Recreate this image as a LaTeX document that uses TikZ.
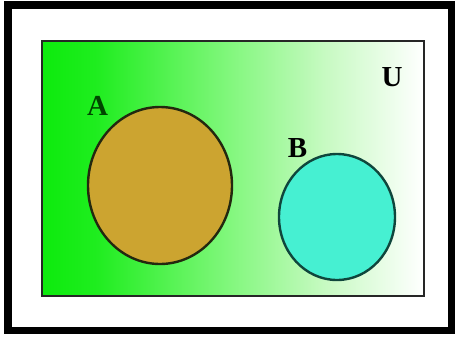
\documentclass[tikz,border=0pt]{standalone}
\usepackage{fontspec}
\setmainfont{Liberation Serif}
\usetikzlibrary{shapes.geometric}
\definecolor{goldA}{RGB}{204,164,48}
\definecolor{cyanB}{RGB}{70,240,210}
\definecolor{edgeA}{RGB}{35,40,15}
\definecolor{edgeB}{RGB}{15,70,60}
\definecolor{labA}{RGB}{0,70,0}
\pgfdeclarehorizontalshading{greenwhite}{100bp}{rgb(0bp)=(0.05,0.92,0.05); rgb(25bp)=(0.05,0.92,0.05); rgb(32bp)=(0.12,0.93,0.12); rgb(50bp)=(0.52,0.97,0.5); rgb(62bp)=(0.78,0.98,0.76); rgb(75bp)=(1,1,1); rgb(100bp)=(1,1,1)}
\tikzset{
  setcircle/.style={ellipse, draw, line width=2.4pt, inner sep=0pt},
  setlabel/.style={font=\fontsize{29}{29}\selectfont\bfseries, anchor=base, inner sep=0pt}
}
\begin{document}
\begin{tikzpicture}[x=1pt,y=-1pt]
\useasboundingbox (0,0) rectangle (458,338);
\fill[white] (0,0) rectangle (458,338);
\draw[line width=7.5pt, black] (8,5) rectangle (451.5,330.5);
\shade[shading=greenwhite] (42,41) rectangle (424,296);
\draw[line width=2pt, black!85] (42,41) rectangle (424,296);
\node[setcircle, fill=goldA, draw=edgeA, minimum width=144pt, minimum height=157pt] (A) at (160,185.5) {};
\node[setcircle, fill=cyanB, draw=edgeB, minimum width=116pt, minimum height=126pt] (B) at (337,217) {};
\node[setlabel, text=labA] (la) at (97.5,115.5) {A};
\node[setlabel] (lb) at (297.5,157.5) {B};
\node[setlabel] (lu) at (392,86) {U};
\end{tikzpicture}
\end{document}
